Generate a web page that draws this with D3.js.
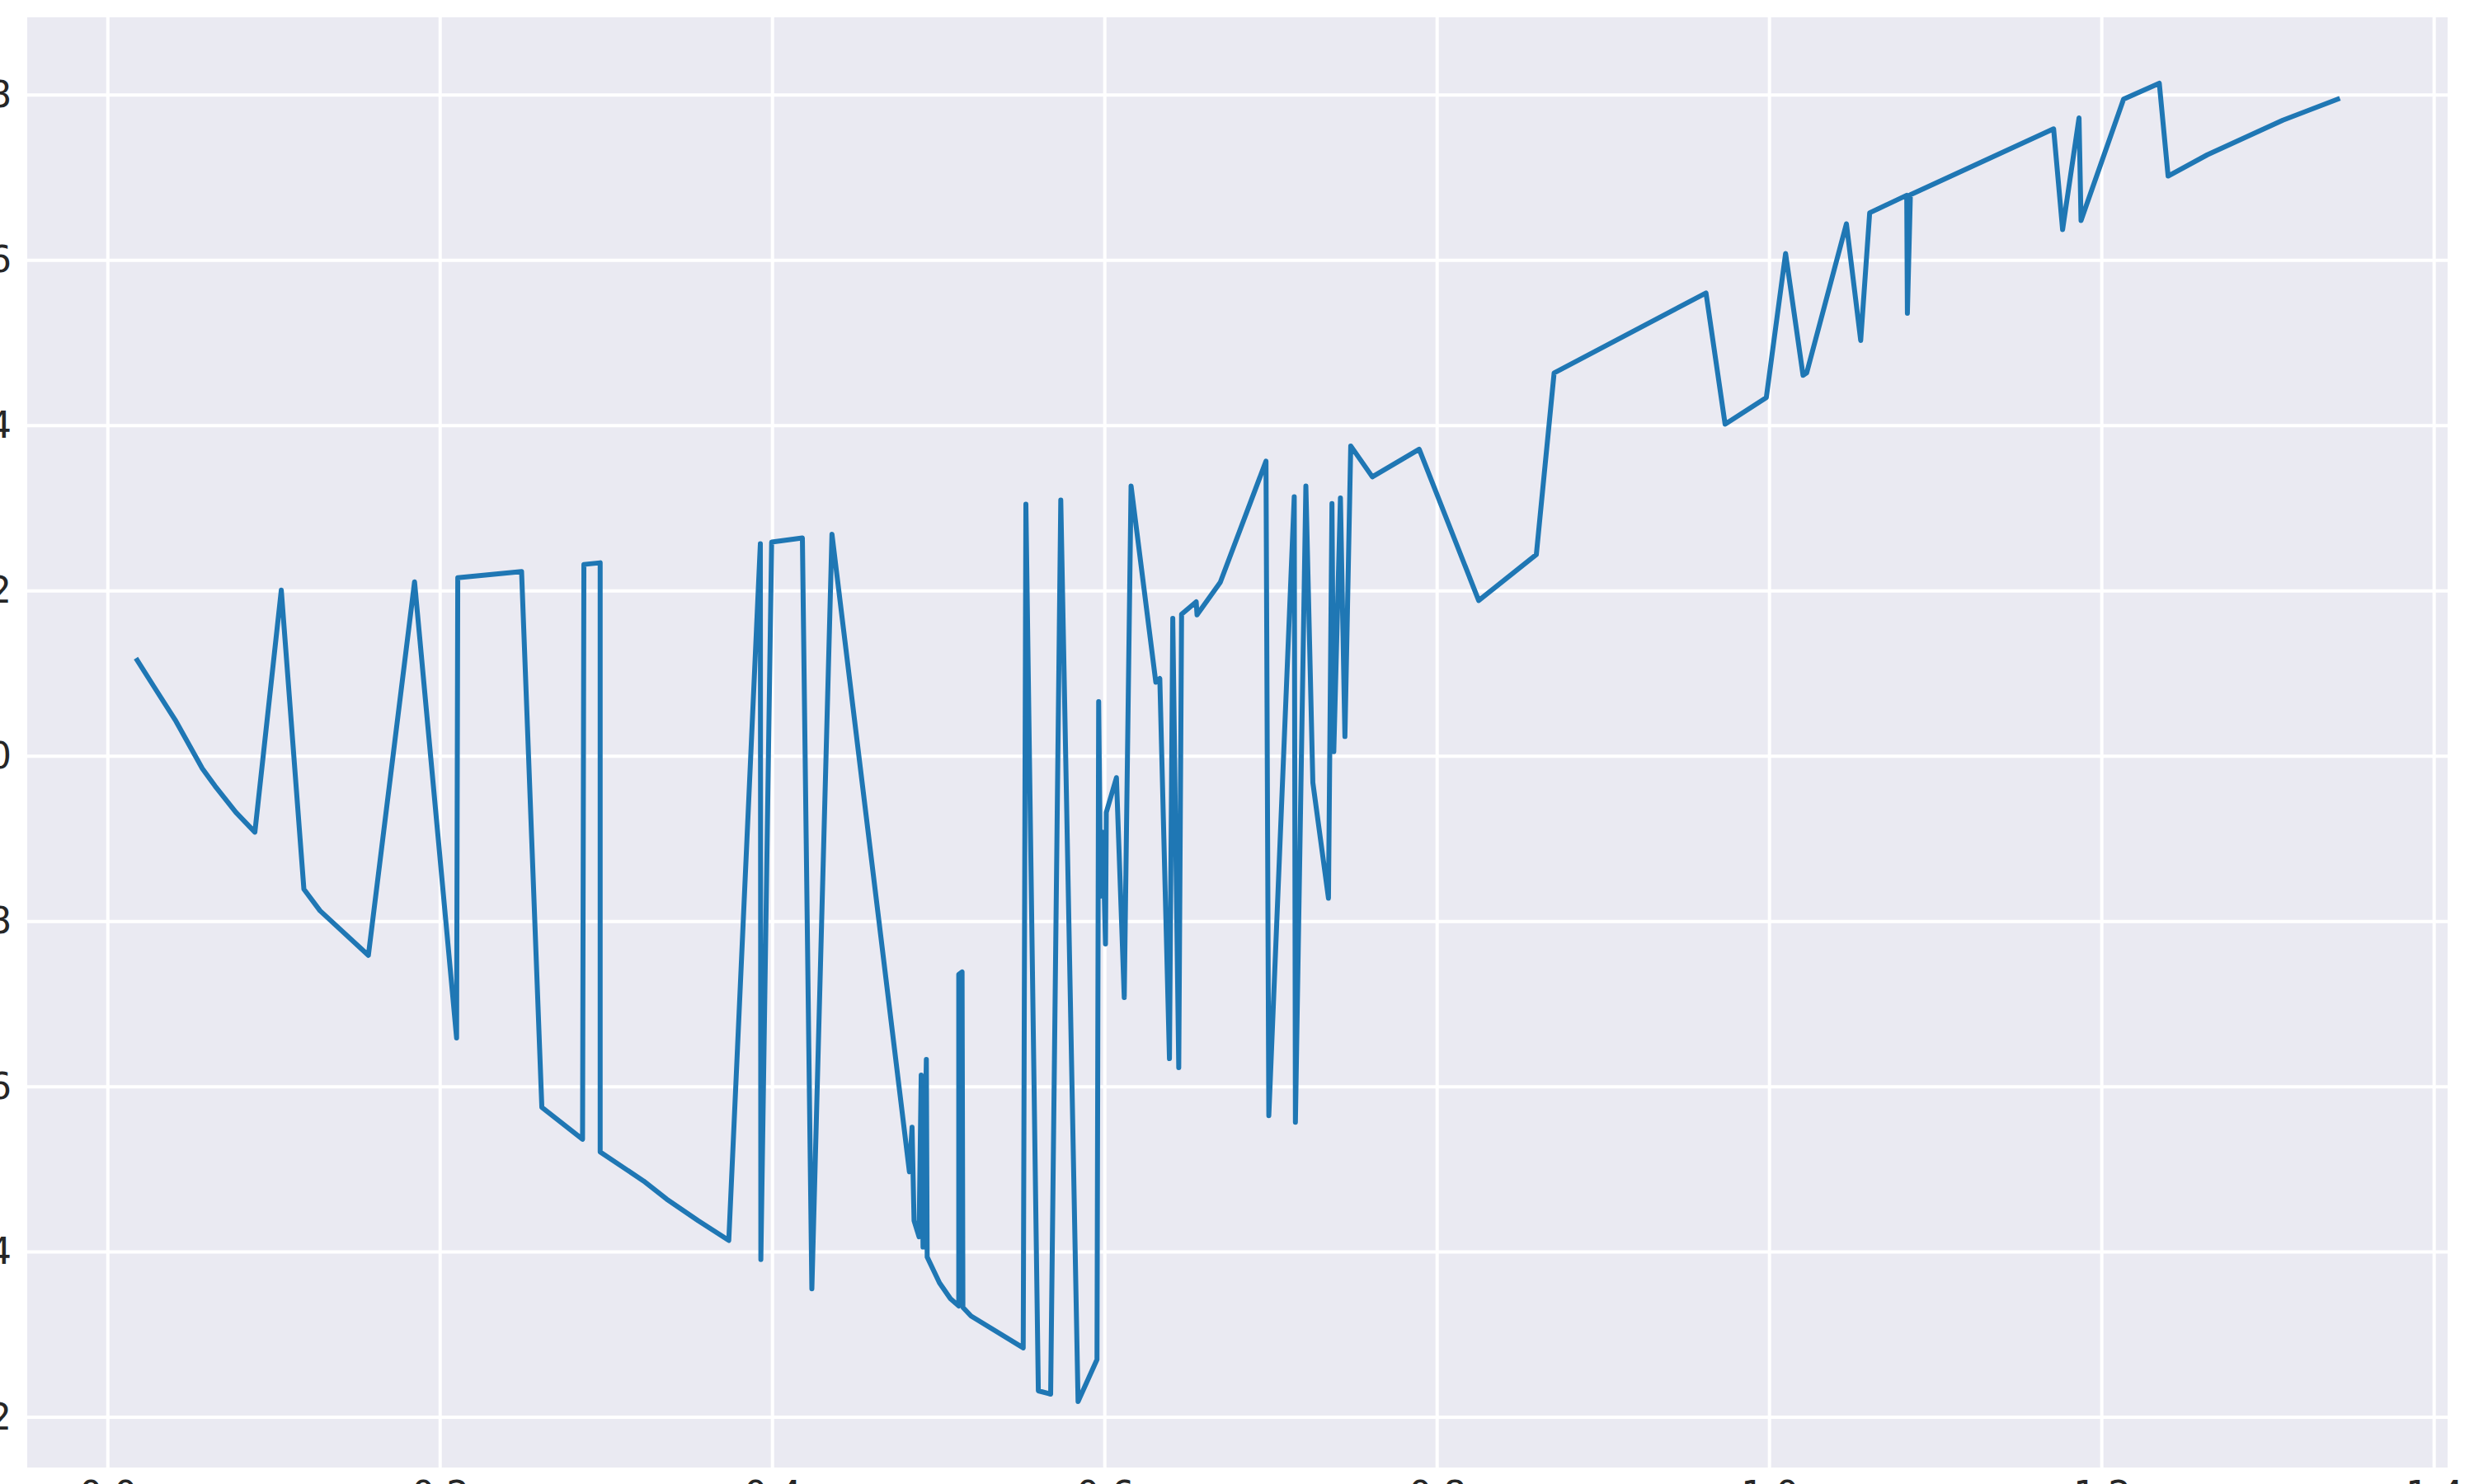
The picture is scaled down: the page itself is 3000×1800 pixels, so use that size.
<!DOCTYPE html>
<html>
<head>
<meta charset="utf-8">
<script src="https://cdn.jsdelivr.net/npm/d3@7"></script>
<style>
	body { margin: 0; background: #ffffff; }
	.tick text { font-family: "DejaVu Sans", sans-serif; fill: #262626; }
</style>
</head>
<body>
<div class="chart"></div>
<script>
var outerW = 3000,
	outerH = 1800;
// plot box (the source picture is cropped, labels run off the edges)
var box = {left: 33, top: 21, right: 2968, bottom: 1780};

// Data, in drawing order
var xValues = [
	0.0177, 0.0278, 0.0405, 0.0569, 0.0645, 0.0771, 0.0885, 0.1044,
	0.1180, 0.1277, 0.1568, 0.1846, 0.2099,
	0.2106, 0.2490, 0.2612, 0.2857, 0.2865, 0.2963, 0.2963, 0.3224, 0.3363, 0.3552,
	0.3737, 0.3927, 0.3930, 0.3995, 0.4180, 0.4237, 0.4358, 0.4824, 0.4840, 0.4852,
	0.4882, 0.4895, 0.4906, 0.4926, 0.4931, 0.5005, 0.5071, 0.5121, 0.5121, 0.5141,
	0.5146, 0.5195, 0.5509, 0.5525, 0.5600, 0.5674, 0.5735, 0.5839, 0.5953, 0.5963,
	0.5975, 0.5988, 0.6004, 0.6009, 0.6070, 0.6117, 0.6158, 0.6307, 0.6331, 0.6389,
	0.6409, 0.6445, 0.6462, 0.6550, 0.6555, 0.6695, 0.6970, 0.6987, 0.7140, 0.7147,
	0.7210, 0.7252, 0.7346, 0.7367, 0.7378, 0.7418, 0.7445, 0.7480, 0.7610, 0.7892,
	0.8250, 0.8597, 0.8704, 0.9618, 0.9733, 0.9981, 1.0097, 1.0202, 1.0224, 1.0463,
	1.0549, 1.0603, 1.0826, 1.0830, 1.0848, 1.1710, 1.1764, 1.1863, 1.1875, 1.2131,
	1.2346, 1.2399, 1.2635, 1.3090, 1.3419
];
var yValues = [
	1.116, 1.084, 1.044, 0.985, 0.964, 0.932, 0.908, 1.201,
	0.839, 0.813, 0.759, 1.211, 0.659,
	1.216, 1.2235, 0.575, 0.5365, 1.232, 1.234, 0.521, 0.486, 0.464, 0.438,
	0.414, 1.257, 0.391, 1.259, 1.264, 0.3555, 1.2686, 0.497, 0.551, 0.438,
	0.4185, 0.614, 0.406, 0.633, 0.394, 0.3627, 0.3435, 0.3347, 0.736, 0.739,
	0.333, 0.3225, 0.284, 1.305, 0.232, 0.228, 1.310, 0.219, 0.270, 1.066,
	0.8306, 0.908, 0.7727, 0.932, 0.974, 0.708, 1.327, 1.0894, 1.094, 0.634,
	1.1667, 0.623, 1.1717, 1.1868, 1.171, 1.2104, 1.357, 0.565, 1.314, 0.557,
	1.327, 0.968, 0.828, 1.3057, 1.0055, 1.3125, 1.0238, 1.3754, 1.338, 1.3714,
	1.1884, 1.244, 1.4638, 1.5605, 1.4017, 1.434, 1.6083, 1.4608, 1.4638, 1.6442,
	1.503, 1.6575, 1.6787, 1.5359, 1.6794, 1.7591, 1.6372, 1.7724, 1.6482, 1.795,
	1.8143, 1.702, 1.7277, 1.7696, 1.795
];

var xTicks = [0.0, 0.2, 0.4, 0.6, 0.8, 1.0, 1.2, 1.4];
var yTicks = [0.2, 0.4, 0.6, 0.8, 1.0, 1.2, 1.4, 1.6, 1.8];

var points = xValues.map(function(d, i) { return [d, yValues[i]]; });

var svg = d3.select(".chart")
	.append("svg")
	.attr("width", outerW)
	.attr("height", outerH)
	.style("display", "block");

// matplotlib style 5% margins round the data
var xMin = d3.min(xValues), xMax = d3.max(xValues);
var yMin = d3.min(yValues), yMax = d3.max(yValues);
var xPad = (xMax - xMin) * 0.05,
	yPad = (yMax - yMin) * 0.05;

var x = d3.scaleLinear()
	.domain([xMin - xPad, xMax + xPad])
	.range([box.left, box.right]);

var y = d3.scaleLinear()
	.domain([yMin - yPad, yMax + yPad])
	.range([box.bottom, box.top]);

// background
svg.append("rect")
	.attr("x", box.left)
	.attr("y", box.top)
	.attr("width", box.right - box.left)
	.attr("height", box.bottom - box.top)
	.style("fill", "#eaeaf2");

// grid
svg.append("g")
	.selectAll("line")
	.data(xTicks)
	.join("line")
	.attr("x1", d => x(d))
	.attr("x2", d => x(d))
	.attr("y1", box.top)
	.attr("y2", box.bottom)
	.attr("stroke", "#ffffff")
	.attr("stroke-width", 4);

svg.append("g")
	.selectAll("line")
	.data(yTicks)
	.join("line")
	.attr("x1", box.left)
	.attr("x2", box.right)
	.attr("y1", d => y(d))
	.attr("y2", d => y(d))
	.attr("stroke", "#ffffff")
	.attr("stroke-width", 4);

// axes, no spines or tick marks
var xAxis = svg.append("g")
	.attr("transform", "translate(0," + box.bottom + ")")
	.call(d3.axisBottom(x)
		.tickValues(xTicks)
		.tickFormat(d3.format(".1f"))
		.tickSize(0)
		.tickPadding(17));

var yAxis = svg.append("g")
	.attr("transform", "translate(" + box.left + ",0)")
	.call(d3.axisLeft(y)
		.tickValues(yTicks)
		.tickFormat(d3.format(".1f"))
		.tickSize(0)
		.tickPadding(19));

svg.selectAll(".domain").remove();
svg.selectAll(".tick text").style("font-size", "44px");

// the series
var line = d3.line()
	.x(d => x(d[0]))
	.y(d => y(d[1]));

svg.append("path")
	.datum(points)
	.attr("d", line)
	.attr("fill", "none")
	.attr("stroke", "#1f77b4")
	.attr("stroke-width", 6)
	.attr("stroke-linejoin", "round")
	.attr("stroke-linecap", "square");
</script>
</body>
</html>
